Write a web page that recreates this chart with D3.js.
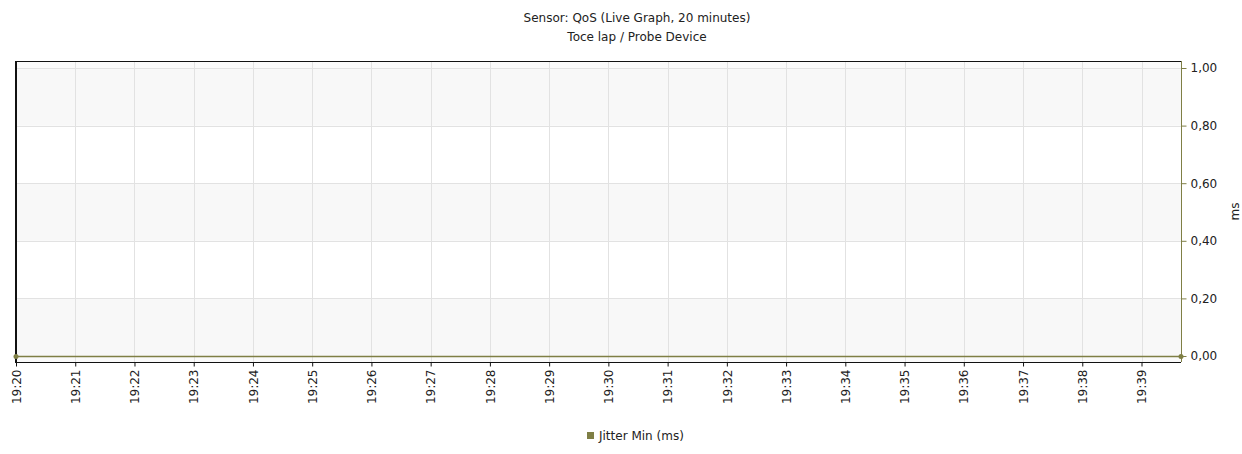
<!DOCTYPE html>
<html>
<head>
<meta charset="utf-8">
<script src="https://cdn.jsdelivr.net/npm/d3@7"></script>
<style>
  body { margin: 0; background: #fff; }
  text { font-family: "DejaVu Sans", sans-serif; fill: #222; }
</style>
</head>
<body>
<div id="chart"></div>
<script>
var titleLines = ["Sensor: QoS (Live Graph, 20 minutes)", "Toce lap / Probe Device"];
var seriesName = "Jitter Min (ms)";
var axisLabel = "ms";
// first and last sample of the 20 minute window
var times = ["19:20:00", "19:39:40"];
var jitterMin = [0, 0];
var yTicks = [0, 0.2, 0.4, 0.6, 0.8, 1.0];

var width = 1242, height = 454;
var plotLeft = 16, plotRight = 1181, plotTop = 61, plotBottom = 362;
var olive = "#7f7f45";

var parse = d3.timeParse("%H:%M:%S");
var data = times.map(function(t, i) { return { t: parse(t), v: jitterMin[i] }; });

var svg = d3.select("#chart").append("svg")
    .attr("width", width)
    .attr("height", height);

var x = d3.scaleTime()
    .domain([data[0].t, data[data.length - 1].t])
    .range([plotLeft, plotRight]);

var y = d3.scaleLinear()
    .domain([0, 1])
    .range([356, 68]);

// plot background
svg.append("rect")
    .attr("x", plotLeft).attr("y", plotTop)
    .attr("width", plotRight - plotLeft).attr("height", plotBottom - plotTop)
    .attr("fill", "#fafafa");

// alternating bands between gridlines
var bands = d3.pairs(yTicks);
svg.selectAll("rect.band")
    .data(bands)
    .enter().append("rect")
    .attr("x", plotLeft)
    .attr("width", plotRight - plotLeft)
    .attr("y", function(d) { return y(d[1]); })
    .attr("height", function(d) { return y(d[0]) - y(d[1]); })
    .attr("fill", function(d, i) { return i % 2 === 0 ? "#f8f8f8" : "#ffffff"; });

// gridlines
var minutes = d3.timeMinute.range(data[0].t, data[data.length - 1].t);
svg.append("g")
    .selectAll("line")
    .data(minutes)
    .enter().append("line")
    .attr("x1", function(d) { return Math.round(x(d)) + 0.5; })
    .attr("x2", function(d) { return Math.round(x(d)) + 0.5; })
    .attr("y1", plotTop)
    .attr("y2", plotBottom)
    .attr("stroke", "#e2e2e2");

svg.append("g")
    .selectAll("line")
    .data(yTicks)
    .enter().append("line")
    .attr("x1", plotLeft)
    .attr("x2", plotRight)
    .attr("y1", function(d) { return Math.round(y(d)) + 0.5; })
    .attr("y2", function(d) { return Math.round(y(d)) + 0.5; })
    .attr("stroke", "#e2e2e2");

// frame
svg.append("line").attr("x1", plotLeft).attr("x2", plotRight).attr("y1", plotTop + 0.5).attr("y2", plotTop + 0.5).attr("stroke", "#111");
svg.append("line").attr("x1", plotLeft).attr("x2", plotRight).attr("y1", plotBottom + 0.5).attr("y2", plotBottom + 0.5).attr("stroke", "#111");
svg.append("line").attr("x1", plotLeft).attr("x2", plotLeft).attr("y1", plotTop).attr("y2", plotBottom + 1).attr("stroke", "#111").attr("stroke-width", 2);

// x axis (time)
var xAxis = d3.axisBottom(x)
    .tickValues(minutes)
    .tickFormat(d3.timeFormat("%H:%M"))
    .tickSize(4);

var gx = svg.append("g")
    .attr("transform", "translate(0," + (plotBottom + 0.5) + ")")
    .call(xAxis);
gx.select(".domain").remove();
gx.selectAll(".tick line").attr("stroke", "#111");
gx.selectAll(".tick text")
    .attr("font-size", 12)
    .attr("font-family", "DejaVu Sans")
    .attr("fill", "#222")
    .attr("text-anchor", "end")
    .attr("dy", "0.35em")
    .attr("transform", "rotate(-90)")
    .attr("x", -7)
    .attr("y", 0);

// y axis (right)
var yAxis = d3.axisRight(y)
    .tickValues(yTicks)
    .tickFormat(function(d) { return d3.format(".2f")(d).replace(".", ","); })
    .tickSize(5)
    .tickPadding(4);

var gy = svg.append("g")
    .attr("transform", "translate(" + (plotRight + 0.5) + ",0)")
    .call(yAxis);
gy.select(".domain").attr("d", "M0," + plotTop + "V" + plotBottom).attr("stroke", olive);
gy.selectAll(".tick line").attr("stroke", olive);
gy.selectAll(".tick text").attr("font-size", 12).attr("fill", "#222")
    .attr("font-family", "DejaVu Sans");

svg.append("text")
    .attr("transform", "translate(1239," + ((plotTop + plotBottom) / 2) + ")rotate(-90)")
    .attr("text-anchor", "middle")
    .attr("font-size", 12)
    .text(axisLabel);

// series
var line = d3.line()
    .x(function(d) { return x(d.t); })
    .y(function(d) { return y(d.v) + 0.5; });

svg.append("path")
    .datum(data)
    .attr("d", line)
    .attr("fill", "none")
    .attr("stroke", olive)
    .attr("stroke-width", 1.5);

svg.selectAll("circle.pt")
    .data(data)
    .enter().append("circle")
    .attr("cx", function(d) { return x(d.t); })
    .attr("cy", function(d) { return y(d.v) + 0.5; })
    .attr("r", 2.5)
    .attr("fill", olive);

// title
svg.selectAll("text.title")
    .data(titleLines)
    .enter().append("text")
    .attr("x", 637)
    .attr("y", function(d, i) { return 22 + i * 19; })
    .attr("text-anchor", "middle")
    .attr("font-size", 12)
    .text(function(d) { return d; });

// legend
var legend = svg.append("g").attr("transform", "translate(587,432)");
legend.append("rect").attr("width", 7).attr("height", 7).attr("fill", olive);
legend.append("text").attr("x", 12).attr("y", 8).attr("font-size", 12).text(seriesName);
</script>
</body>
</html>
